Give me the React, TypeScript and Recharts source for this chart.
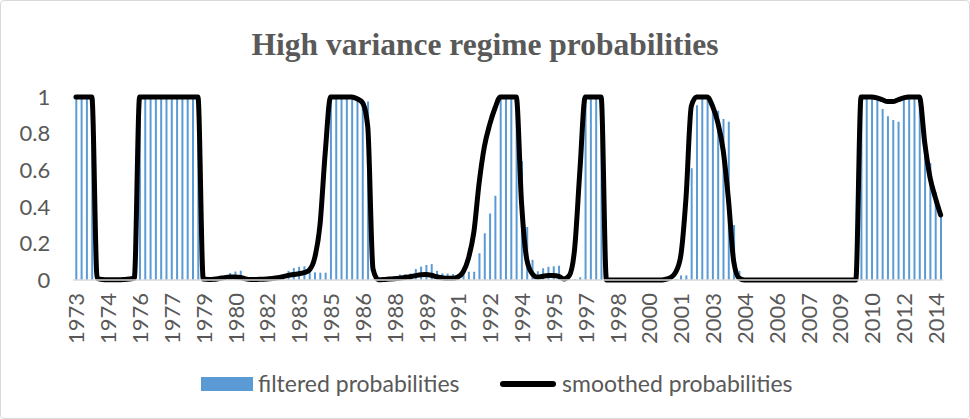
import React from 'react';
import { ComposedChart, Bar, Line, XAxis, YAxis } from 'recharts';

// quarterly observations, 1973Q1 .. 2013Q4
const startYear = 1973;
const endYear = 2013;
const quarters: string[] = [];
for (let y = startYear; y <= endYear; y++) {
  for (let q = 1; q <= 4; q++) quarters.push(`${y}Q${q}`);
}

// filtered probabilities (one row per year)
const filtered = [
  1, 1, 1, 1,
  0, 0, 0, 0,
  0, 0, 0, 0,
  1, 1, 1, 1,
  1, 1, 1, 1,
  1, 1, 1, 1,
  0, 0, 0, 0.005,
  0.025, 0.038, 0.046, 0.05,
  0.003, 0.003, 0.004, 0.006,
  0.012, 0.015, 0.02, 0.022,
  0.05, 0.065, 0.072, 0.075,
  0.045, 0.042, 0.04, 0.04,
  1, 1, 1, 1,
  0.99, 0.985, 0.985, 0.975,
  0.005, 0.005, 0.01, 0.015,
  0.022, 0.03, 0.032, 0.035,
  0.06, 0.073, 0.082, 0.087,
  0.05, 0.036, 0.035, 0.033,
  0.033, 0.042, 0.045, 0.045,
  0.146, 0.255, 0.364, 0.46,
  1, 1, 1, 1,
  0.65, 0.29, 0.11, 0.048,
  0.064, 0.072, 0.075, 0.078,
  0.005, 0.003, 0.005, 0.015,
  1, 1, 1, 1,
  0, 0, 0, 0,
  0, 0, 0, 0,
  0, 0, 0, 0,
  0.003, 0.005, 0.025, 0.025,
  0.61, 0.955, 1, 1,
  0.97, 0.925, 0.88, 0.865,
  0.3, 0.05, 0, 0,
  0, 0, 0, 0,
  0, 0, 0, 0,
  0, 0, 0, 0,
  0, 0, 0, 0,
  0, 0, 0, 0,
  1, 1, 1, 0.99,
  0.935, 0.895, 0.875, 0.865,
  1, 1, 1, 1,
  0.82, 0.64, 0.48, 0.36,
];

// smoothed probabilities
const smoothed = [
  1, 1, 1, 1,
  0.01, 0.003, 0.002, 0.002,
  0.002, 0.003, 0.005, 0.01,
  1, 1, 1, 1,
  1, 1, 1, 1,
  1, 1, 1, 1,
  0.005, 0.003, 0.004, 0.008,
  0.013, 0.017, 0.017, 0.014,
  0.006, 0.003, 0.003, 0.004,
  0.005, 0.008, 0.012, 0.018,
  0.025, 0.03, 0.034, 0.04,
  0.055, 0.12, 0.3, 0.7,
  1, 1, 1, 1,
  1, 0.99, 0.97, 0.84,
  0.06, 0.002, 0.003, 0.005,
  0.007, 0.01, 0.014, 0.018,
  0.024, 0.029, 0.03, 0.026,
  0.018, 0.012, 0.009, 0.009,
  0.016, 0.045, 0.12, 0.26,
  0.53, 0.73, 0.85, 0.94,
  1, 1, 1, 1,
  0.42, 0.11, 0.035, 0.015,
  0.02, 0.024, 0.024, 0.02,
  0.006, 0.025, 0.17, 0.6,
  1, 1, 1, 1,
  0, 0, 0, 0,
  0, 0, 0, 0,
  0, 0, 0, 0.003,
  0.012, 0.04, 0.13, 0.45,
  0.95, 1, 1, 1,
  0.95, 0.86, 0.71, 0.44,
  0.1, 0.01, 0, 0,
  0, 0, 0, 0,
  0, 0, 0, 0,
  0, 0, 0, 0,
  0, 0, 0, 0,
  0, 0, 0, 0,
  1, 1, 1, 0.995,
  0.985, 0.975, 0.975, 0.985,
  0.995, 1, 1, 1,
  0.75, 0.56, 0.45, 0.355,
];

// labels shown on the category axis, one every 6 quarters
const tickLabels = [
  '1973', '1974', '1976', '1977', '1979', '1980', '1982', '1983', '1985', '1986',
  '1988', '1989', '1991', '1992', '1994', '1995', '1997', '1998', '2000', '2001',
  '2003', '2004', '2006', '2007', '2009', '2010', '2012', '2014',
];
const tickStep = 6;
const yTicks = [0, 0.2, 0.4, 0.6, 0.8, 1];

const data = quarters.map((q, i) => ({ q, filtered: filtered[i], smoothed: smoothed[i] }));
const labelFor: Record<string, string> = {};
tickLabels.forEach((l, i) => {
  const q = quarters[i * tickStep];
  if (q) labelFor[q] = l;
});

const TEXT = '#595959';
const FONT = 'Lato, "Open Sans", sans-serif';
const BLUE = '#5B9BD5';

const XTick = (props: any) => {
  const { x, y, payload } = props;
  const label = labelFor[payload.value] ?? '';
  return (
    <text
      x={x}
      y={y}
      transform={`rotate(-90 ${x} ${y})`}
      textAnchor="end"
      dominantBaseline="central"
      fontSize={22}
      fontFamily={FONT}
      fill={TEXT}
    >
      {label}
    </text>
  );
};

const App: React.FC = () => {
  return (
    <div
      style={{
        position: 'absolute',
        left: 0,
        top: 0,
        width: 970,
        height: 419,
        boxSizing: 'border-box',
        border: '1px solid #d9d9d9',
        borderRadius: 4,
        background: '#fff',
        overflow: 'hidden',
      }}
    >
      <div style={{ position: 'absolute', left: -1, top: -1 }}>
        <ComposedChart
          width={970}
          height={419}
          data={data}
          margin={{ top: 97, right: 26.7, left: 13.3, bottom: 79 }}
          barCategoryGap={0}
        >
          <XAxis
            dataKey="q"
            interval={tickStep - 1}
            tick={<XTick />}
            tickLine={false}
            tickSize={0}
            tickMargin={13}
            height={60}
            axisLine={{ stroke: '#d9d9d9', strokeWidth: 1.5 }}
          />
          <YAxis
            domain={[0, 1]}
            ticks={yTicks}
            width={60}
            axisLine={false}
            tickLine={false}
            tickSize={0}
            tickMargin={23}
            tick={{ fontSize: 22, fontFamily: FONT, fill: TEXT }}
          />
          <Bar dataKey="filtered" fill={BLUE} barSize={2} isAnimationActive={false} />
          <Line
            dataKey="smoothed"
            type="monotone"
            stroke="#000"
            strokeWidth={5}
            strokeLinejoin="round"
            strokeLinecap="round"
            dot={false}
            activeDot={false}
            isAnimationActive={false}
          />
        </ComposedChart>
      </div>
      <svg
        width={970}
        height={419}
        style={{ position: 'absolute', left: -1, top: -1, pointerEvents: 'none' }}
      >
        <text
          x={485}
          y={55}
          textAnchor="middle"
          fontFamily='"Liberation Serif", serif'
          fontWeight="bold"
          fontSize={31.5}
          fill={TEXT}
        >
          High variance regime probabilities
        </text>
        <rect x={201} y={377} width={52} height={14} fill={BLUE} />
        <text x={258} y={392} fontFamily={FONT} fontSize={23} fill={TEXT}>
          filtered probabilities
        </text>
        <line x1={503} y1={384} x2={553} y2={384} stroke="#000" strokeWidth={6} strokeLinecap="round" />
        <text x={562} y={392} fontFamily={FONT} fontSize={23} fill={TEXT}>
          smoothed probabilities
        </text>
      </svg>
    </div>
  );
};

export default App;
